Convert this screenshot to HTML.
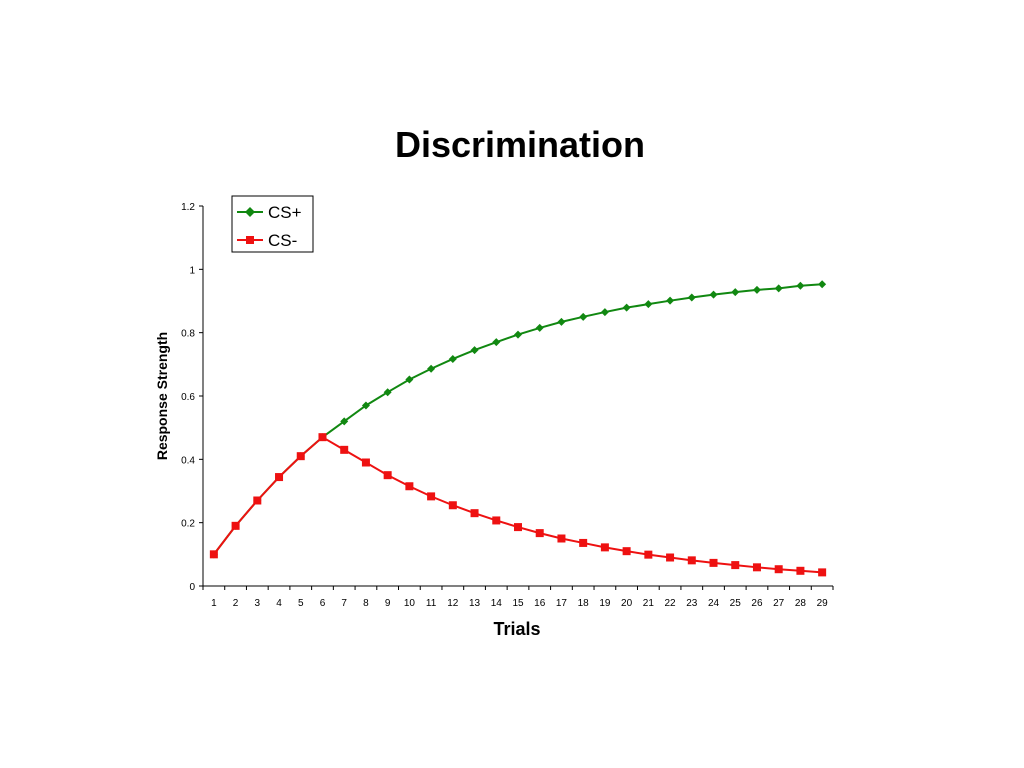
<!DOCTYPE html>
<html><head><meta charset="utf-8"><style>
html,body{margin:0;padding:0;background:#fff;}
svg{display:block;font-family:"Liberation Sans",Arial,sans-serif;}
</style></head><body>
<svg id="chart" width="1024" height="768">
<text x="520" y="157" text-anchor="middle" font-size="36" font-weight="bold">Discrimination</text>
<text transform="translate(167,396) rotate(-90)" text-anchor="middle" font-size="14" font-weight="bold">Response Strength</text>
<text x="517" y="635" text-anchor="middle" font-size="18" font-weight="bold">Trials</text>
<g id="axes"></g>
<g id="series"></g>
<g>
<rect x="232" y="196" width="81" height="56" fill="#fff" stroke="#000" stroke-width="1"/>
<g>
<line x1="237" y1="212" x2="263" y2="212" stroke="#118811" stroke-width="2"/>
<path d="M250 207 L255 212 L250 217 L245 212 Z" fill="#118811"/>
<text x="268" y="218" font-size="17">CS+</text></g>
<g>
<line x1="237" y1="240" x2="263" y2="240" stroke="#ee1111" stroke-width="2"/>
<rect x="246" y="236" width="8" height="8" fill="#ee1111"/>
<text x="268" y="246" font-size="17">CS-</text></g>
</g>
</svg>
<script>
const categories = [1,2,3,4,5,6,7,8,9,10,11,12,13,14,15,16,17,18,19,20,21,22,23,24,25,26,27,28,29];
const csPlus = [0.1,0.19,0.27,0.344,0.41,0.47,0.52,0.57,0.612,0.652,0.686,0.717,0.745,0.77,0.794,0.815,0.834,0.85,0.865,0.879,0.89,0.901,0.911,0.92,0.928,0.935,0.94,0.948,0.953];
const csMinus = [0.1,0.19,0.27,0.344,0.41,0.47,0.43,0.39,0.35,0.315,0.283,0.255,0.23,0.207,0.186,0.167,0.15,0.136,0.122,0.11,0.099,0.09,0.081,0.073,0.066,0.059,0.053,0.048,0.043];
const yTicks = [0,0.2,0.4,0.6,0.8,1,1.2];
const yTickLabels = ["0","0.2","0.4","0.6","0.8","1","1.2"];

const NS="http://www.w3.org/2000/svg";
const X0=203, X1=833, Y0=586, Y1=206, YMAX=1.2;
const step=(X1-X0)/categories.length;
function xPos(i){return X0+step*(i+0.5);}
function yPos(v){return Y0-(v/YMAX)*(Y0-Y1);}
function mk(tag,attrs,parent){const e=document.createElementNS(NS,tag);for(const k in attrs)e.setAttribute(k,attrs[k]);parent.appendChild(e);return e;}
const axes=document.getElementById('axes');
const ya=mk('line',{x1:X0,y1:Y1,x2:X0,y2:Y0,stroke:'#000','stroke-width':1},axes);


const xa=mk('line',{x1:X0,y1:Y0,x2:X1,y2:Y0,stroke:'#000','stroke-width':1},axes);


yTicks.forEach((v,i)=>{
  const y=yPos(v);
  mk('line',{x1:X0-4,y1:y,x2:X0,y2:y,stroke:'#000'},axes);
  const t=mk('text',{x:X0-8,y:y+4,'text-anchor':'end','font-size':10},axes);
  t.textContent=yTickLabels[i];
  
  
});
for(let i=0;i<=categories.length;i++){
  const x=X0+step*i;
  mk('line',{x1:x,y1:Y0,x2:x,y2:Y0+4,stroke:'#000'},axes);
}
categories.forEach((c,i)=>{
  const t=mk('text',{x:xPos(i),y:606,'text-anchor':'middle','font-size':10},axes);
  t.textContent=c;
  
  
});
const ser=document.getElementById('series');
function drawSeries(vals,color,name,marker){
  const pl=mk('polyline',{points:vals.map((v,i)=>xPos(i)+','+yPos(v)).join(' '),fill:'none',stroke:color,'stroke-width':2},ser);
  
  
  vals.forEach((v,i)=>{
    const x=xPos(i),y=yPos(v);
    let m;
    if(marker==='diamond') m=mk('path',{d:`M${x} ${y-4}L${x+4} ${y}L${x} ${y+4}L${x-4} ${y}Z`,fill:color},ser);
    else m=mk('rect',{x:x-4,y:y-4,width:8,height:8,fill:color},ser);
    
    
  });
}
drawSeries(csPlus,'#118811','cs-plus','diamond');
drawSeries(csMinus,'#ee1111','cs-minus','square');
</script>
</body></html>
